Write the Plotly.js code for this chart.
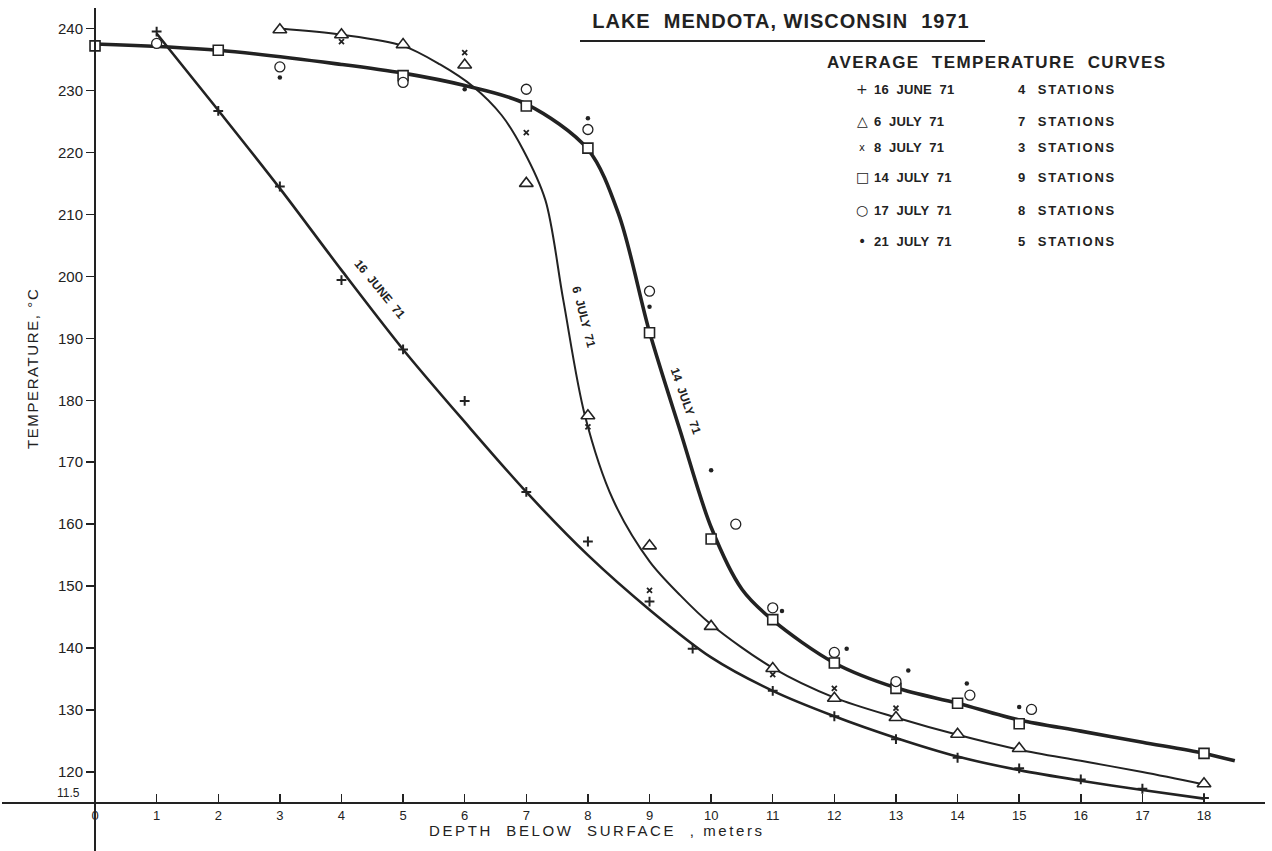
<!DOCTYPE html>
<html><head><meta charset="utf-8">
<script src="https://cdn.plot.ly/plotly-3.0.1.min.js"></script>
<style>html,body{margin:0;padding:0;background:#fff}#chart{width:1272px;height:851px}</style>
</head><body><div id="chart"></div>
<script>
// ---------- observations (depth m, temperature °C) ----------
const depth16Jun = [1, 2, 3, 4, 5, 6, 7, 8, 9, 9.7, 11, 12, 13, 14, 15, 16, 17, 18];
const temp16Jun  = [23.95, 22.67, 21.45, 19.94, 18.82, 17.99, 16.52, 15.72, 14.75, 13.99, 13.31, 12.90, 12.53, 12.23, 12.06, 11.88, 11.73, 11.58];

const depth6Jul = [3, 4, 5, 6, 7, 8, 9, 10, 11, 12, 13, 14, 15, 18];
const temp6Jul  = [23.98, 23.90, 23.74, 23.41, 21.50, 17.75, 15.65, 14.35, 13.67, 13.19, 12.88, 12.61, 12.38, 11.81];

const depth8Jul = [4, 6, 7, 8, 9, 11, 12, 13];
const temp8Jul  = [23.79, 23.61, 22.32, 17.57, 14.93, 13.57, 13.35, 13.03];

const depth14Jul = [0, 2, 5, 7, 8, 9, 10, 11, 12, 13, 14, 15, 18];
const temp14Jul  = [23.72, 23.65, 23.24, 22.75, 22.07, 19.09, 15.76, 14.46, 13.76, 13.35, 13.11, 12.78, 12.30];

const depth17Jul = [1, 3, 5, 7, 8, 9, 10.4, 11, 12, 13, 14.2, 15.2];
const temp17Jul  = [23.76, 23.38, 23.13, 23.02, 22.37, 19.76, 16.0, 14.65, 13.93, 13.46, 13.24, 13.01];

const depth21Jul = [3, 6, 8, 9, 10, 11.15, 12.2, 13.2, 14.15, 15];
const temp21Jul  = [23.21, 23.02, 22.55, 19.51, 16.87, 14.6, 13.99, 13.64, 13.43, 13.05];

// ---------- hand-drawn average curves ----------
const curve16JunDepth = [1, 2, 3, 4, 5, 6, 7, 8, 9, 10, 11, 12, 13, 14, 15, 16, 17, 18];
const curve16JunTemp  = [23.92, 22.68, 21.42, 20.1, 18.82, 17.65, 16.52, 15.5, 14.62, 13.85, 13.31, 12.9, 12.55, 12.25, 12.03, 11.86, 11.71, 11.57];

const curve6JulDepth = [3, 4, 5, 5.6, 6.14, 6.6, 6.95, 7.31, 7.6, 7.95, 8.41, 9, 9.5, 10, 11, 12, 13, 14, 15, 16, 17, 18];
const curve6JulTemp  = [24.0, 23.9, 23.72, 23.42, 23.06, 22.6, 22.04, 21.23, 19.62, 17.76, 16.39, 15.4, 14.85, 14.38, 13.68, 13.2, 12.88, 12.6, 12.36, 12.18, 12.0, 11.8];

const curve14JulDepth = [0, 2, 4, 5, 6, 7, 8, 8.5, 9, 9.5, 10, 10.5, 11, 12, 13, 14, 15, 16, 17, 18, 18.5];
const curve14JulTemp  = [23.75, 23.65, 23.42, 23.28, 23.08, 22.78, 22.05, 21.0, 19.1, 17.5, 15.95, 14.95, 14.45, 13.76, 13.36, 13.11, 12.84, 12.66, 12.48, 12.3, 12.18];

// ---------- labels ----------
const xTickVals = [0,1,2,3,4,5,6,7,8,9,10,11,12,13,14,15,16,17,18];
const xTickText = ['0','1','2','3','4','5','6','7','8','9','10','11','12','13','14','15','16','17','18'];
const yTickVals = [11.5,12,13,14,15,16,17,18,19,20,21,22,23,24];
const yTickText = ['','120','130','140','150','160','170','180','190','200','210','220','230','240'];
const yBottomLabel = '11.5';

const legendSymbols  = ['+', '△', 'x', '□', '○', '•'];
const legendDates    = ['16  JUNE  71', '6  JULY  71', '8  JULY  71', '14  JULY  71', '17  JULY  71', '21  JULY  71'];
const legendStations = ['4  STATIONS', '7  STATIONS', '3  STATIONS', '9  STATIONS', '8  STATIONS', '5  STATIONS'];

const chartTitle = 'LAKE  MENDOTA, WISCONSIN  1971';
const legendTitle = 'AVERAGE  TEMPERATURE  CURVES';
const xTitle = 'DEPTH  BELOW  SURFACE  , meters';
const yTitle = 'TEMPERATURE, °C';

// ---------- layout geometry ----------
const W = 1272, H = 851, ML = 2, MR = 7, MT = 8, MB = 0;
const xRange = [-1.51, 18.99];
const yRange = [10.725, 24.331];
const px2paperX = p => (p - ML) / (W - ML - MR);
const px2paperY = p => (H - MB - p) / (H - MT - MB);
const ink = '#222222';
const FONT = 'Liberation Sans, Arial, sans-serif';
const ls = (t, s) => '<span style="letter-spacing:' + s + 'px">' + t + '</span>';

const curveTrace = (x, y, w) => ({
  x: x, y: y, type: 'scatter', mode: 'lines', hoverinfo: 'skip', showlegend: false,
  line: {color: ink, width: w, shape: 'spline', smoothing: 0.9}
});
const markTrace = (name, x, y, marker) => ({
  name: name, x: x, y: y, type: 'scatter', mode: 'markers', showlegend: false, marker: marker
});

const data = [
  curveTrace(curve16JunDepth, curve16JunTemp, 2.6),
  curveTrace(curve6JulDepth, curve6JulTemp, 2.0),
  curveTrace(curve14JulDepth, curve14JulTemp, 3.6),
  markTrace('16 JUNE 71', depth16Jun, temp16Jun, {symbol: 'cross-thin', size: 7, color: ink, line: {color: ink, width: 2}}),
  markTrace('6 JULY 71', depth6Jul, temp6Jul, {symbol: 'triangle-up', size: 12, color: '#fff', line: {color: ink, width: 1.6}}),
  markTrace('8 JULY 71', depth8Jul, temp8Jul, {symbol: 'x-thin', size: 5, color: ink, line: {color: ink, width: 1.8}}),
  markTrace('14 JULY 71', depth14Jul, temp14Jul, {symbol: 'square', size: 10, color: '#fff', line: {color: ink, width: 1.6}}),
  markTrace('17 JULY 71', depth17Jul, temp17Jul, {symbol: 'circle', size: 10, color: '#fff', line: {color: ink, width: 1.3}}),
  markTrace('21 JULY 71', depth21Jul, temp21Jul, {symbol: 'circle', size: 4.5, color: ink, line: {width: 0}})
];

const annotations = [];
// curve labels
const curveLabels = [
  {t: '16  JUNE  71', x: 4.62, y: 19.8, a: 50.5},
  {t: '6  JULY  71', x: 7.93, y: 19.34, a: 75.6},
  {t: '14  JULY  71', x: 9.6, y: 17.98, a: 70.5}
];
curveLabels.forEach(c => annotations.push({
  text: '<b>' + c.t + '</b>', x: c.x, y: c.y, xref: 'x', yref: 'y', showarrow: false,
  textangle: c.a, font: {family: FONT, size: 12, color: ink}
}));
// bottom y label
annotations.push({text: yBottomLabel, x: px2paperX(82), y: px2paperY(793), xref: 'paper', yref: 'paper',
  xanchor: 'right', yanchor: 'middle', showarrow: false, font: {family: FONT, size: 12, color: ink}});
// legend block
annotations.push({
  text: '<b>' + ls(legendTitle, 1.4) + '</b>', x: px2paperX(997), y: px2paperY(62), xref: 'paper', yref: 'paper',
  xanchor: 'center', yanchor: 'middle', showarrow: false, font: {family: FONT, size: 17, color: ink}
});
const rowY = [89, 121, 147, 177, 210, 241];
legendDates.forEach((d, i) => {
  annotations.push({text: legendSymbols[i], x: px2paperX(862), y: px2paperY(rowY[i]), xref: 'paper', yref: 'paper',
    xanchor: 'center', yanchor: 'middle', showarrow: false,
    font: {family: 'DejaVu Sans', size: i === 2 ? 10 : 14, color: ink}});
  annotations.push({text: '<b>' + ls(d, 0.2) + '</b>', x: px2paperX(872), y: px2paperY(rowY[i]), xref: 'paper', yref: 'paper',
    xanchor: 'left', yanchor: 'middle', showarrow: false, font: {family: FONT, size: 13, color: ink}});
  annotations.push({text: '<b>' + ls(legendStations[i], 1.8) + '</b>', x: px2paperX(1016), y: px2paperY(rowY[i]), xref: 'paper', yref: 'paper',
    xanchor: 'left', yanchor: 'middle', showarrow: false, font: {family: FONT, size: 13, color: ink}});
});
// axis titles
annotations.push({text: ls(xTitle, 2.6), x: px2paperX(597), y: px2paperY(830), xref: 'paper', yref: 'paper',
  xanchor: 'center', yanchor: 'middle', showarrow: false, font: {family: FONT, size: 15, color: ink}});
annotations.push({text: ls(yTitle, 1.6), x: px2paperX(33), y: px2paperY(369), xref: 'paper', yref: 'paper',
  xanchor: 'center', yanchor: 'middle', textangle: -90, showarrow: false, font: {family: FONT, size: 15, color: ink}});

const layout = {
  width: W, height: H,
  margin: {l: ML, r: MR, t: MT, b: MB, pad: 0},
  paper_bgcolor: '#ffffff', plot_bgcolor: '#ffffff',
  showlegend: false,
  title: {text: '<b>' + ls(chartTitle, 1.0) + '</b>', x: 781 / W, xref: 'container', xanchor: 'center',
          y: 1 - 21 / H, yref: 'container', yanchor: 'middle',
          font: {family: FONT, size: 20, color: ink}},
  xaxis: {
    range: xRange, anchor: 'free', position: (11.5 - yRange[0]) / (yRange[1] - yRange[0]),
    showline: true, linecolor: ink, linewidth: 2.2, zeroline: false, showgrid: false,
    tickmode: 'array', tickvals: xTickVals, ticktext: xTickText,
    ticks: 'inside', ticklen: 8, tickwidth: 1.5, tickcolor: ink,
    tickfont: {family: FONT, size: 13, color: ink}, fixedrange: true
  },
  yaxis: {
    range: yRange, anchor: 'free', position: (0 - xRange[0]) / (xRange[1] - xRange[0]),
    showline: true, linecolor: ink, linewidth: 2.2, zeroline: false, showgrid: false,
    tickmode: 'array', tickvals: yTickVals, ticktext: yTickText,
    ticks: 'outside', ticklen: 8, tickwidth: 1.5, tickcolor: ink,
    tickfont: {family: FONT, size: 15, color: ink}, fixedrange: true
  },
  shapes: [{type: 'line', xref: 'paper', yref: 'paper',
    x0: px2paperX(580), x1: px2paperX(985), y0: px2paperY(41), y1: px2paperY(41),
    line: {color: ink, width: 2}}],
  annotations: annotations
};

Plotly.newPlot('chart', data, layout, {displayModeBar: false, staticPlot: true});
</script>
</body></html>
